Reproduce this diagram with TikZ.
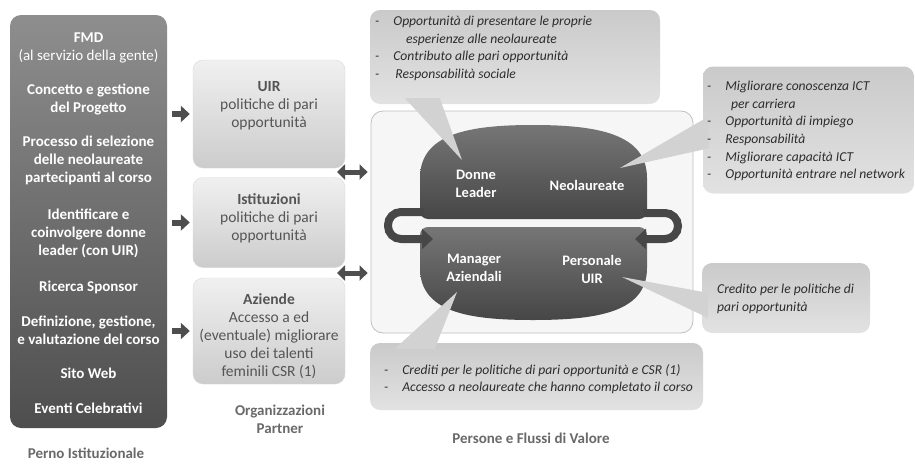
\documentclass[tikz,border=0pt]{standalone}
\usepackage{fontspec}
\setmainfont{Carlito}
\usetikzlibrary{arrows.meta}
\definecolor{pernotop}{RGB}{142,142,142}
\definecolor{pernobot}{RGB}{78,78,78}
\definecolor{boxtop}{RGB}{240,240,240}
\definecolor{boxbot}{RGB}{204,204,204}
\definecolor{boxtxt}{RGB}{85,85,85}
\definecolor{blobtop}{RGB}{118,118,118}
\definecolor{blobbot}{RGB}{70,70,70}
\definecolor{calltop}{RGB}{202,202,202}
\definecolor{callbot}{RGB}{226,226,226}
\definecolor{calltxt}{RGB}{45,45,45}
\definecolor{arrowg}{RGB}{78,78,78}
\definecolor{panelg}{RGB}{246,246,246}
\definecolor{captiong}{RGB}{105,105,105}

\begin{document}
\begin{tikzpicture}[x=1pt, y=-1pt,
  pernotxt/.style={text=white, align=center, font=\fontsize{15}{18}\selectfont\bfseries},
  partnerbox/.style={rounded corners=10pt, top color=boxtop, bottom color=boxbot, draw=black!15, minimum width=152},
  partnertxt/.style={text=boxtxt, align=center, font=\fontsize{15.5}{18}\selectfont},
  blobtxt/.style={text=white, align=center, font=\fontsize{14.5}{18}\selectfont\bfseries},
  blobshade/.style={top color=blobtop, bottom color=blobbot},
  callbox/.style={rounded corners=10pt, top color=calltop, bottom color=callbot},
  calltxt/.style={anchor=north west, text=calltxt, align=left, inner sep=0pt, font=\fontsize{13.6}{17.6}\selectfont\itshape},
  wedge/.style={fill=calltop!85!white},
  caption/.style={text=captiong, align=center, font=\fontsize{15}{18}\selectfont\bfseries},
  blockarr/.style={arrowg, line width=6pt, -{Triangle[length=9pt,width=16pt]}, shorten <=5pt, shorten >=3pt},
  dblarr/.style={arrowg, line width=5pt, {Triangle[length=8pt,width=15pt]}-{Triangle[length=8pt,width=15pt]}, shorten >=3pt},
  looparr/.style={black!72, line width=8pt, rounded corners=13pt, -{Triangle[length=11pt,width=20pt]}}]
% geometry: 1pt = 1px of the 915x463 sheet, y grows downward
\useasboundingbox (0,0) rectangle (915,463);
\def\dsh{-\hspace{14pt}}

% ---- perno istituzionale (left column) ----
\node[rounded corners=11pt, top color=pernotop, bottom color=pernobot, minimum width=157, minimum height=413] (perno) at (88.5,221.5) {};
\foreach \i/\y/\txt in {1/48/{FMD\\\mdseries(al servizio della gente)},
                        2/99/{Concetto e gestione\\del Progetto},
                        3/160/{Processo di selezione\\delle neolaureate\\partecipanti al corso},
                        4/233/{Identificare e\\coinvolgere donne\\leader (con UIR)},
                        5/287/{Ricerca Sponsor},
                        6/330/{Definizione, gestione,\\e valutazione del corso},
                        7/373/{Sito Web},
                        8/408/{Eventi Celebrativi}}{
  \node[pernotxt] (pt\i) at (88.5,\y) {\txt};
}
\node[caption] (pernocap) at (86,453) {Perno Istituzionale};

% ---- organizzazioni partner ----
\node[partnerbox, minimum height=108] (uir) at (269,114) {};
\node[partnerbox, minimum height=90] (ist) at (269,222.5) {};
\node[partnerbox, minimum height=106] (az) at (269,331) {};
\node[partnertxt] (uirtxt) at (269,106) {\textbf{UIR}\\politiche di pari\\opportunità};
\node[partnertxt] (isttxt) at (269,218) {\textbf{Istituzioni}\\politiche di pari\\opportunità};
\node[partnertxt] (aztxt) at (269,336) {\textbf{Aziende}\\Accesso a ed\\(eventuale) migliorare\\uso dei talenti\\feminili CSR (1)};
\node[caption] (partcap) at (280,419) {Organizzazioni\\Partner};
\foreach \b in {uir,ist,az}{ \draw[blockarr] (perno.east |- \b.west) -- (\b.west); }

% ---- persone e flussi di valore ----
\node[rounded corners=12pt, fill=panelg, draw=black!25, line width=0.8pt, minimum width=322, minimum height=222] (panel) at (532,222) {};
\node[caption] (panelcap) at (531,438) {Persone e Flussi di Valore};
\coordinate (gapA) at (337,172);
\coordinate (gapB) at (337,273);
\draw[dblarr] (gapA) -- (panel.west |- gapA);
\draw[dblarr] (gapB) -- (panel.west |- gapB);

% two dark blobs: dome on top, dome below
\shade[blobshade] (420,211) -- (420,178) .. controls (420,134) and (468,125) .. (533,125)
  .. controls (598,125) and (647,134) .. (647,178) -- (647,211) arc[start angle=0, end angle=90, radius=8]
  -- (428,219) arc[start angle=90, end angle=180, radius=8] -- cycle;
\shade[blobshade] (420,235) -- (420,268) .. controls (420,312) and (468,320) .. (533,320)
  .. controls (598,320) and (647,312) .. (647,268) -- (647,235) arc[start angle=0, end angle=-90, radius=8]
  -- (428,227) arc[start angle=-90, end angle=-180, radius=8] -- cycle;
\coordinate (tlL) at (424,212);
\coordinate (blL) at (433,239);
\coordinate (tlR) at (643,213);
\coordinate (blR) at (635,239);
\draw[looparr] (tlL) -- ++(-36,0) |- (blL);
\draw[looparr] (tlR) -- ++(35,0) |- (blR);
\node[blobtxt] (donne) at (476,184) {Donne\\Leader};
\node[blobtxt] (neo) at (587,185) {Neolaureate};
\node[blobtxt] (manager) at (474,268) {Manager\\Aziendali};
\node[blobtxt] (personale) at (592,269) {Personale\\UIR};

% ---- callouts ----
\node[callbox, minimum width=290, minimum height=94] (leadcall) at (515,57) {};
\node[callbox, minimum width=211, minimum height=127] (neocall) at (808.5,130) {};
\node[callbox, minimum width=168, minimum height=70] (credcall) at (786,298) {};
\node[callbox, minimum width=333, minimum height=67] (mancall) at (536.5,376.5) {};
\coordinate (leadtip) at (462,160);
\coordinate (neotip) at (620,168);
\coordinate (credtip) at (622,277);
\coordinate (mantip) at (457,292);
\fill[wedge] ([xshift=35pt,yshift=6pt]leadcall.south west) -- ([xshift=70pt,yshift=6pt]leadcall.south west) -- (leadtip) -- cycle;
\fill[wedge] ([xshift=6pt,yshift=-50pt]neocall.north west) -- ([xshift=6pt,yshift=-82pt]neocall.north west) -- (neotip) -- cycle;
\fill[wedge] ([xshift=6pt,yshift=-30pt]credcall.north west) -- ([xshift=6pt,yshift=-55pt]credcall.north west) -- (credtip) -- cycle;
\fill[wedge] ([xshift=25pt,yshift=-6pt]mancall.north west) -- ([xshift=65pt,yshift=-6pt]mancall.north west) -- (mantip) -- cycle;
\node[calltxt] (leadtxt) at (375,16) {\dsh Opportunità di presentare le proprie\\
  \hspace{31pt}esperienze alle neolaureate\\
  \dsh Contributo alle pari opportunità\\
  \dsh\hspace{2pt}Responsabilità sociale};
\node[calltxt] (neotxt) at (707,81) {\dsh Migliorare conoscenza ICT\\
  \hspace{24pt}per carriera\\
  \dsh Opportunità di impiego\\
  \dsh Responsabilità\\
  \dsh Migliorare capacità ICT\\
  \dsh Opportunità entrare nel network};
\node[calltxt] (credtxt) at (717,284) {Credito per le politiche di\\pari opportunità};
\node[calltxt] (mantxt) at (384,364) {\dsh Crediti per le politiche di pari opportunità e CSR (1)\\
  \dsh Accesso a neolaureate che hanno completato il corso};
\end{tikzpicture}
\end{document}
